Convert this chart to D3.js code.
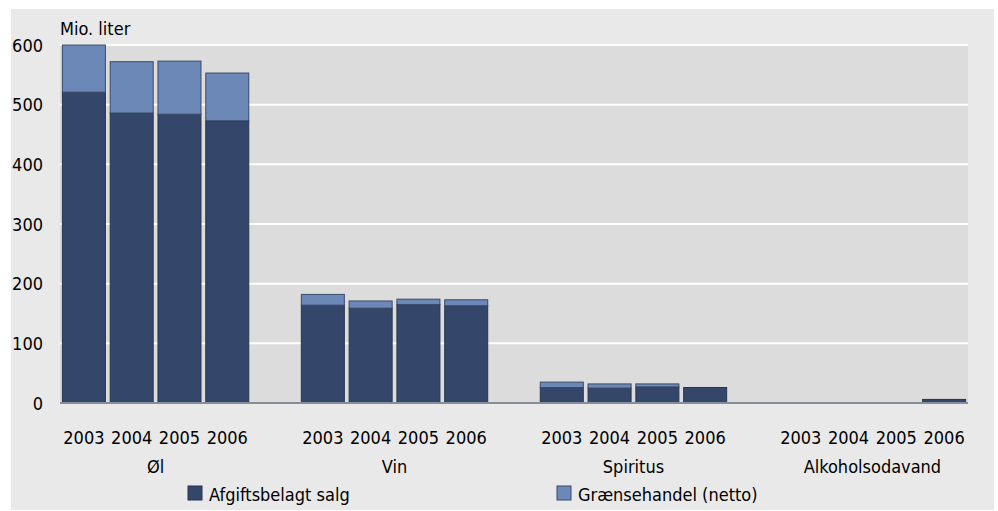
<!DOCTYPE html>
<html>
<head>
<meta charset="utf-8">
<script src="https://cdn.jsdelivr.net/npm/d3@7"></script>
<style>
  body { margin: 0; background: #fff; }
  text { font-family: "DejaVu Sans Condensed", "DejaVu Sans", sans-serif; fill: #000; }
</style>
</head>
<body>
<div id="chart"></div>
<script>
// Data
const categories = ["Øl", "Vin", "Spiritus", "Alkoholsodavand"];
const years = ["2003", "2004", "2005", "2006"];
const afgiftsbelagt = [
  [521, 486, 484, 473],
  [164, 159, 165, 163],
  [26, 25, 27, 26],
  [0, 0, 0, 6]
];
const graensehandel = [
  [79, 86, 89, 80],
  [18, 12, 9, 10],
  [9, 7, 5, 0],
  [0, 0, 0, 0]
];
const yTicks = [0, 100, 200, 300, 400, 500, 600];
const seriesNames = ["Afgiftsbelagt salg", "Grænsehandel (netto)"];

const width = 998, height = 511;
const plot = { left: 60, right: 968, top: 45, bottom: 403 };
const colDark = "#34466a", colLight = "#6c88b7";
const fontSize = 18;

// slots: 4 years per category, with an empty slot between categories
const slots = [];
categories.forEach((c, ci) => {
  years.forEach(y => slots.push(c + "|" + y));
  if (ci < categories.length - 1) slots.push("gap" + ci);
});

const x = d3.scaleBand()
  .domain(slots)
  .range([plot.left, plot.right])
  .paddingInner(0.1)
  .paddingOuter(0.05);

const y = d3.scaleLinear()
  .domain([0, 600])
  .range([plot.bottom, plot.top]);

const rows = [];
categories.forEach((c, ci) => {
  years.forEach((yr, yi) => {
    const a = afgiftsbelagt[ci][yi], g = graensehandel[ci][yi];
    rows.push({ key: c + "|" + yr, year: yr, y0: 0, y1: a, color: colDark, stroke: "#27354f" });
    if (g > 0) rows.push({ key: c + "|" + yr, year: yr, y0: a, y1: a + g, color: colLight, stroke: "#3a4a6a" });
  });
});

const svg = d3.select("#chart").append("svg")
  .attr("width", width)
  .attr("height", height)
  .attr("viewBox", [0, 0, width, height]);

svg.append("rect")
  .attr("x", 11).attr("y", 9)
  .attr("width", 983).attr("height", 501)
  .attr("fill", "#e9e9e9");

svg.append("rect")
  .attr("x", plot.left).attr("y", plot.top)
  .attr("width", plot.right - plot.left).attr("height", plot.bottom - plot.top)
  .attr("fill", "#dcdcdc");

// gridlines
svg.append("g")
  .selectAll("line")
  .data(yTicks.filter(d => d > 0))
  .join("line")
  .attr("x1", plot.left).attr("x2", plot.right)
  .attr("y1", d => y(d)).attr("y2", d => y(d))
  .attr("stroke", "#fff")
  .attr("stroke-width", 2);

// bars
svg.append("g")
  .selectAll("rect")
  .data(rows)
  .join("rect")
  .attr("x", d => x(d.key))
  .attr("width", x.bandwidth())
  .attr("y", d => y(d.y1))
  .attr("height", d => y(d.y0) - y(d.y1))
  .attr("fill", d => d.color)
  .attr("stroke", d => d.stroke)
  .attr("stroke-width", 1);

// baseline
svg.append("line")
  .attr("x1", plot.left).attr("x2", plot.right)
  .attr("y1", y(0)).attr("y2", y(0))
  .attr("stroke", "#878d99")
  .attr("stroke-width", 2);

// y axis labels
svg.append("g")
  .selectAll("text")
  .data(yTicks)
  .join("text")
  .attr("x", 43)
  .attr("y", d => y(d) + 6.5)
  .attr("text-anchor", "end")
  .attr("font-size", fontSize)
  .text(d => d);

svg.append("text")
  .attr("x", 60).attr("y", 35)
  .attr("font-size", fontSize)
  .text("Mio. liter");

// year labels
svg.append("g")
  .selectAll("text")
  .data(slots.filter(s => s.includes("|")))
  .join("text")
  .attr("x", d => x(d) + x.bandwidth() / 2)
  .attr("y", 444)
  .attr("text-anchor", "middle")
  .attr("font-size", fontSize)
  .text(d => d.split("|")[1]);

// category labels
svg.append("g")
  .selectAll("text")
  .data(categories)
  .join("text")
  .attr("x", c => (x(c + "|" + years[0]) + x(c + "|" + years[years.length - 1]) + x.bandwidth()) / 2)
  .attr("y", 473)
  .attr("text-anchor", "middle")
  .attr("font-size", fontSize)
  .text(c => c);

// legend
const legendX = [188, 557];
const legend = svg.append("g")
  .selectAll("g")
  .data(seriesNames)
  .join("g")
  .attr("transform", (d, i) => `translate(${legendX[i]},486)`);
legend.append("rect")
  .attr("width", 14).attr("height", 14)
  .attr("fill", (d, i) => i === 0 ? colDark : colLight)
  .attr("stroke", (d, i) => i === 0 ? "#27354f" : "#3a4a6a")
  .attr("stroke-width", 1);
legend.append("text")
  .attr("x", 21).attr("y", 14.5)
  .attr("font-size", fontSize)
  .text(d => d);
</script>
</body>
</html>
